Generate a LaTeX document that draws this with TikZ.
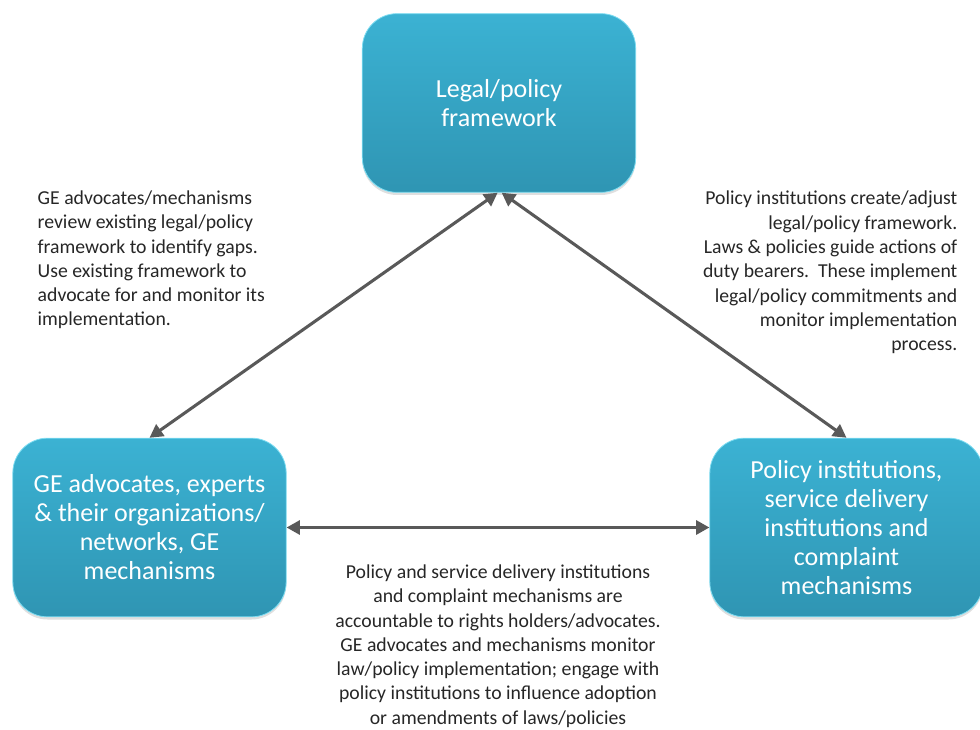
\documentclass[tikz,border=0pt]{standalone}
\usepackage{fontspec}
\setmainfont{Carlito}
\usetikzlibrary{arrows.meta,shadows}

\definecolor{boxtop}{HTML}{3BB2D3}
\definecolor{boxbot}{HTML}{2F95B3}
\definecolor{boxrim}{HTML}{7DDDF2}
\definecolor{arrowgray}{HTML}{595959}
\definecolor{textgray}{HTML}{262626}

\begin{document}
\begin{tikzpicture}[x=0.75pt,y=-0.75pt]
\useasboundingbox (0,0) rectangle (980,730);

\begin{scope}[every node/.style={rounded corners=26pt, top color=boxtop,
              bottom color=boxbot, draw=boxrim, line width=0.6pt,
              minimum width=205pt, minimum height=134pt, align=center,
              text=white, font=\fontsize{19.5}{21.75}\selectfont,
              drop shadow={opacity=0.25,shadow xshift=0pt,shadow yshift=-2pt}}]

    \node (legal) at (499,103)
        {Legal/policy\\framework};
    \node (advocates) at (149.5,527.5)
        {GE advocates, experts\\\& their organizations/\\networks, GE\\mechanisms};
    \node (institutions) at (846.5,527.5)
        {Policy institutions,\\service delivery\\institutions and\\complaint\\mechanisms};

\end{scope}

\begin{scope}[every node/.style={text=textgray,
              font=\fontsize{14.8}{18.2}\selectfont}]

    \node[anchor=west, align=left] (leftnote) at (33,260)
        {GE advocates/mechanisms\\review existing legal/policy\\framework to identify gaps.\\Use existing framework to\\advocate for and monitor its\\implementation.};
    \node[anchor=east, align=right] (rightnote) at (962,272.5)
        {Policy institutions create/adjust\\legal/policy framework.\\Laws \& policies guide actions of\\duty bearers.\ \ These implement\\legal/policy commitments and\\monitor implementation\\process.};
    \node[align=center] (bottomnote) at (498,646)
        {Policy and service delivery institutions\\and complaint mechanisms are\\accountable to rights holders/advocates.\\GE advocates and mechanisms monitor\\law/policy implementation; engage with\\policy institutions to influence adoption\\or amendments of laws/policies};

\end{scope}

\begin{scope}[every edge/.style={draw=arrowgray, line width=2.3pt,
              {Triangle[length=10pt,width=10.5pt]}-{Triangle[length=10pt,width=10.5pt]}}]

    \path ([xshift=-1pt]legal.south) edge (advocates.north);
    \path ([xshift=2pt]legal.south) edge (institutions.north);
    \path (advocates.east) edge (institutions.west);

\end{scope}

\end{tikzpicture}
\end{document}
